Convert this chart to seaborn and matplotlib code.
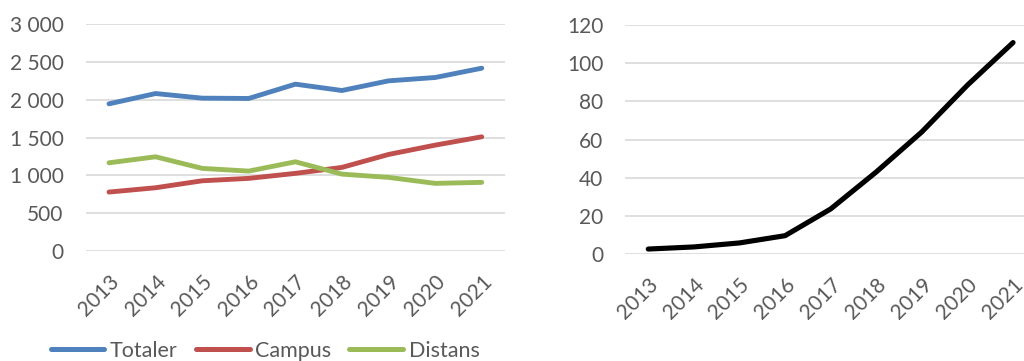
import matplotlib
matplotlib.use('Agg')
import matplotlib.pyplot as plt
import matplotlib.ticker as mticker
import pandas as pd
import seaborn as sns

years = [2013, 2014, 2015, 2016, 2017, 2018, 2019, 2020, 2021]
totaler = [1945, 2081, 2020, 2016, 2205, 2121, 2249, 2293, 2416]
campus = [779, 836, 928, 960, 1026, 1105, 1276, 1399, 1509]
distans = [1166, 1245, 1092, 1056, 1179, 1016, 973, 894, 907]
right_vals = [2.6, 3.7, 5.8, 9.6, 23.6, 43, 64, 88.5, 110.8]

series_names = ['Totaler', 'Campus', 'Distans']
colors = ['#4F81BD', '#C0504D', '#9BBB59']

# long format for the left chart
df = pd.DataFrame({
    'year': years * 3,
    'value': totaler + campus + distans,
    'serie': [s for s in series_names for _ in years],
})
df2 = pd.DataFrame({'year': years, 'value': right_vals})

sns.set_style('white')
plt.rcParams['font.family'] = ['Lato', 'DejaVu Sans']
text_col = '#595959'
grid_col = '#D9D9D9'

fig = plt.figure(figsize=(10.24, 3.61), dpi=100)
ax1 = fig.add_axes([0.0837, 0.3047, 0.4095, 0.6288])
# right panel runs to the figure edge (the reference crops it there)
ax2 = fig.add_axes([0.6108, 0.2964, 1 - 0.6108, 0.6343])

sns.lineplot(data=df, x='year', y='value', hue='serie', palette=colors,
             linewidth=3.5, ax=ax1, legend=False, solid_capstyle='round')
sns.lineplot(data=df2, x='year', y='value', color='black', linewidth=3.7,
             ax=ax2, solid_capstyle='round')


def space_fmt(v, pos):
    return f'{int(v):,}'.replace(',', ' ')


for ax, top, step, xmax in [(ax1, 3000, 500, 2021.5), (ax2, 120, 20, 2021.24)]:
    ax.set_xlim(2012.5, xmax)
    ax.set_ylim(0, top)
    ax.set_yticks(range(0, top + 1, step))
    ax.set_xticks(years)
    ax.yaxis.set_major_formatter(mticker.FuncFormatter(space_fmt))
    ax.grid(axis='y', color=grid_col, linewidth=1.2)
    ax.set_axisbelow(True)
    for sp in ax.spines.values():
        sp.set_visible(False)
    ax.tick_params(axis='both', length=0, labelsize=15, colors=text_col)
    ax.tick_params(axis='y', pad=16)
    ax.tick_params(axis='x', pad=15)
    for lab in ax.get_xticklabels():
        lab.set_rotation(45)
        lab.set_ha('right')
        lab.set_rotation_mode('anchor')
    ax.set_xlabel('')
    ax.set_ylabel('')

handles = [plt.Line2D([], [], color=c, linewidth=3.6, solid_capstyle='round')
           for c in colors]
leg = fig.legend(handles, series_names, loc='center', ncol=3, frameon=False,
                 bbox_to_anchor=(265 / 1024, 1 - 351 / 361), fontsize=15.5,
                 handlelength=2.5, handletextpad=0.25, columnspacing=0.85)
for t in leg.get_texts():
    t.set_color(text_col)

fig.savefig('out.png', dpi=100)
